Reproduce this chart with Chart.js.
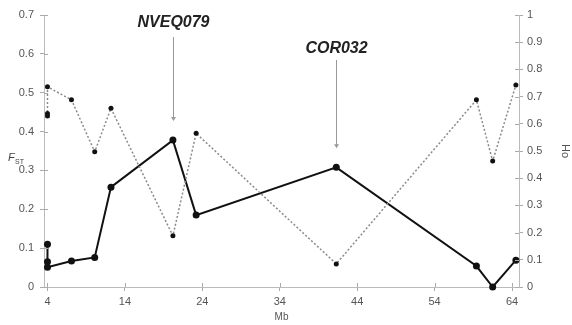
<!DOCTYPE html>
<html lang="en">
<head>
    <meta charset="UTF-8">
    <script src="https://cdn.jsdelivr.net/npm/chart.js"></script>
    <style>
        body { margin: 0; background: #fff; }
        #wrap { width: 572px; height: 325px; }
    </style>
</head>
<body>
<div id="wrap"><canvas id="myChart" width="572" height="325"></canvas></div>
<script>
// positions along the chromosome (Mb) and values
var fstMb = [4, 4, 4, 7.1, 10.1, 12.2, 20.2, 23.2, 41.3, 59.4, 61.5, 64.5];
var fstVals = [0.11, 0.065, 0.051, 0.067, 0.076, 0.257, 0.378, 0.185, 0.308, 0.054, 0.0, 0.069];
var hoMb = [4, 4, 4, 7.1, 10.1, 12.2, 20.2, 23.2, 41.3, 59.4, 61.5, 64.5];
var hoVals = [0.629, 0.638, 0.736, 0.688, 0.497, 0.657, 0.188, 0.565, 0.085, 0.688, 0.463, 0.743];
var mbTicks = [4, 14, 24, 34, 44, 54, 64];
var markerNames = ['NVEQ079', 'COR032'];
var markerMb = [20.2, 41.3];
var markerFst = [0.378, 0.308];

var FONT = "'Liberation Sans', Arial, sans-serif";

function pts(xs, ys) {
    var out = [];
    for (var i = 0; i < xs.length; i++) out.push({x: xs[i], y: ys[i]});
    return out;
}

// arrows + marker names, the F_ST title, and ticks crossing the axes
var extras = {
    id: 'extras',
    afterDraw: function(chart) {
        var ctx = chart.ctx;
        var xs = chart.scales.x, yl = chart.scales.yL;
        ctx.save();
        // ticks poking into the plot
        ctx.strokeStyle = '#aaa';
        ctx.lineWidth = 1;
        ['yL', 'yR'].forEach(function(id) {
            var s = chart.scales[id];
            var ax = id === 'yL' ? s.right : s.left;
            var dir = id === 'yL' ? 1 : -1;
            s.ticks.forEach(function(t) {
                var py = Math.round(s.getPixelForValue(t.value)) + 0.5;
                ctx.beginPath();
                ctx.moveTo(ax, py);
                ctx.lineTo(ax + dir * 4, py);
                ctx.stroke();
            });
        });
        xs.ticks.forEach(function(t) {
            var px = Math.round(xs.getPixelForValue(t.value)) + 0.5;
            ctx.beginPath();
            ctx.moveTo(px, xs.top);
            ctx.lineTo(px, xs.top - 4);
            ctx.stroke();
        });

        // marker labels with arrows
        var textTop = [15, 41];
        var arrowTop = [37, 60];
        for (var i = 0; i < markerNames.length; i++) {
            var px = Math.round(xs.getPixelForValue(markerMb[i])) + 0.5;
            var tip = yl.getPixelForValue(markerFst[i]) - 19;
            ctx.strokeStyle = '#999';
            ctx.fillStyle = '#999';
            ctx.lineWidth = 1;
            ctx.beginPath();
            ctx.moveTo(px, arrowTop[i]);
            ctx.lineTo(px, tip - 3);
            ctx.stroke();
            ctx.beginPath();
            ctx.moveTo(px - 2.5, tip - 4);
            ctx.lineTo(px + 2.5, tip - 4);
            ctx.lineTo(px, tip);
            ctx.closePath();
            ctx.fill();
            ctx.fillStyle = '#222';
            ctx.font = 'italic bold 16px ' + FONT;
            ctx.textAlign = 'center';
            ctx.textBaseline = 'top';
            ctx.fillText(markerNames[i], px, textTop[i]);
        }

        // F_ST axis title
        ctx.fillStyle = '#444';
        ctx.textAlign = 'left';
        ctx.textBaseline = 'alphabetic';
        ctx.font = 'italic 11px ' + FONT;
        ctx.fillText('F', 8, 161);
        ctx.font = '7px ' + FONT;
        ctx.fillText('ST', 15, 164);
        ctx.restore();
    }
};

var ctx = document.getElementById('myChart');
var myChart = new Chart(ctx, {
    type: 'scatter',
    data: {
        datasets: [{
            label: 'Ho',
            data: pts(hoMb, hoVals),
            yAxisID: 'yR',
            showLine: true,
            clip: false,
            borderColor: '#8a8a8a',
            borderWidth: 1.5,
            borderDash: [2, 2],
            pointRadius: 2.5,
            pointBackgroundColor: '#111',
            pointBorderColor: '#111',
            pointBorderWidth: 0,
            tension: 0
        }, {
            label: 'Fst',
            data: pts(fstMb, fstVals),
            yAxisID: 'yL',
            showLine: true,
            clip: false,
            borderColor: '#111',
            borderWidth: 2,
            pointRadius: 3.5,
            pointBackgroundColor: '#111',
            pointBorderColor: '#111',
            pointBorderWidth: 0,
            tension: 0
        }]
    },
    options: {
        responsive: false,
        animation: false,
        layout: { padding: { top: 15, left: 0, right: 0, bottom: 0 } },
        plugins: { legend: { display: false }, tooltip: { enabled: false } },
        scales: {
            x: {
                type: 'linear',
                position: 'bottom',
                min: 3.55,
                max: 64.9,
                afterBuildTicks: function(s) { s.ticks = mbTicks.map(function(v) { return {value: v}; }); },
                afterFit: function(s) { s.height = 38; },
                grid: { drawOnChartArea: false, tickLength: 4, color: '#aaa' },
                border: { color: '#bbb' },
                ticks: { color: '#555', font: { family: FONT, size: 11 }, padding: 4, maxRotation: 0, autoSkip: false },
                title: { display: true, text: 'Mb', color: '#555', font: { family: FONT, size: 10 }, padding: { top: 0, bottom: 2 } }
            },
            yL: {
                position: 'left',
                min: 0,
                max: 0.7,
                ticks: { stepSize: 0.1, color: '#555', font: { family: FONT, size: 11 }, padding: 6,
                    callback: function(v) { return Math.round(v * 10) / 10; } },
                afterFit: function(s) { s.width = 44; },
                grid: { drawOnChartArea: false, tickLength: 4, color: '#aaa' },
                border: { color: '#bbb' }
            },
            yR: {
                position: 'right',
                min: 0,
                max: 1,
                ticks: { stepSize: 0.1, color: '#555', font: { family: FONT, size: 11 }, padding: 4,
                    callback: function(v) { return Math.round(v * 10) / 10; } },
                afterFit: function(s) { s.width = 53; },
                grid: { drawOnChartArea: false, tickLength: 4, color: '#aaa' },
                border: { color: '#bbb' },
                title: { display: true, text: 'Ho', color: '#555', font: { family: FONT, size: 11 }, padding: { top: 0, bottom: 4 } }
            }
        }
    },
    plugins: [extras]
});
</script>
</body>
</html>
